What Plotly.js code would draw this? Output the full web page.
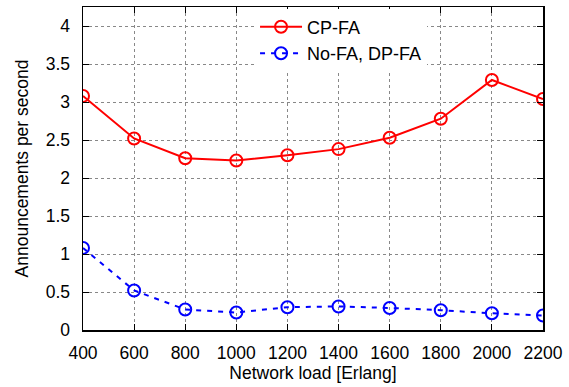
<!DOCTYPE html>
<html><head><meta charset="utf-8">
<script src="https://cdn.plot.ly/plotly-3.0.1.min.js"></script>
<style>html,body{margin:0;padding:0;background:#fff}</style>
</head><body>
<div id="chart" style="width:569px;height:387px"></div>
<script>
var loads = [400, 600, 800, 1000, 1200, 1400, 1600, 1800, 2000, 2200];
var cpFa = [3.08, 2.52, 2.26, 2.23, 2.30, 2.38, 2.53, 2.78, 3.29, 3.04];
var noFa = [1.08, 0.52, 0.27, 0.23, 0.30, 0.31, 0.29, 0.26, 0.22, 0.19];
var xTicks = [400, 600, 800, 1000, 1200, 1400, 1600, 1800, 2000, 2200];
var yTicks = [0, 0.5, 1, 1.5, 2, 2.5, 3, 3.5, 4];
var yTickLabels = ['0', '0.5', '1', '1.5', '2', '2.5', '3', '3.5', '4'];

var traces = [
  {x: loads, y: cpFa, name: 'CP-FA', mode: 'lines+markers', type: 'scatter',
   line: {color: '#ff0000', width: 2},
   marker: {symbol: 'circle-open', size: 12, color: '#ff0000', line: {width: 2, color: '#ff0000'}}},
  {x: loads, y: noFa, name: 'No-FA, DP-FA', mode: 'lines+markers', type: 'scatter',
   line: {color: '#0000ff', width: 2, dash: '5px,6px'},
   marker: {symbol: 'circle-open', size: 12, color: '#0000ff', line: {width: 2, color: '#0000ff'}}}
];

var layout = {
  width: 569, height: 387,
  margin: {l: 83, r: 26, t: 7, b: 57},
  paper_bgcolor: '#fff', plot_bgcolor: '#fff',
  font: {family: 'Liberation Sans, Arial, sans-serif', color: '#000', size: 17},
  xaxis: {range: [400, 2200], tickvals: xTicks, ticktext: xTicks.map(String),
    showgrid: true, gridcolor: '#888', griddash: 'dot', gridwidth: 1,
    showline: true, linecolor: '#000', linewidth: 1.5, mirror: 'ticks',
    ticks: 'inside', ticklen: 6, tickcolor: '#000', zeroline: false,
    tickfont: {size: 17.5}, ticklabelstandoff: 6,
    title: {text: 'Network load [Erlang]', font: {size: 17.5}, standoff: 5}},
  yaxis: {range: [0, 4.25], tickvals: yTicks, ticktext: yTickLabels,
    showgrid: true, gridcolor: '#888', griddash: 'dot', gridwidth: 1,
    showline: true, linecolor: '#000', linewidth: 1.5, mirror: 'ticks',
    ticks: 'inside', ticklen: 6, tickcolor: '#000', zeroline: false,
    tickfont: {size: 17.5}, ticklabelstandoff: 8,
    title: {text: 'Announcements per second', font: {size: 17.5}, standoff: 12}},
  legend: {x: 0.374, y: 0.995, xanchor: 'left', yanchor: 'top',
    bgcolor: '#fff', borderwidth: 0, font: {size: 18},
    tracegroupgap: 0, itemwidth: 42},
  showlegend: true
};
Plotly.newPlot('chart', traces, layout, {displayModeBar: false, staticPlot: true});
</script>
</body></html>
